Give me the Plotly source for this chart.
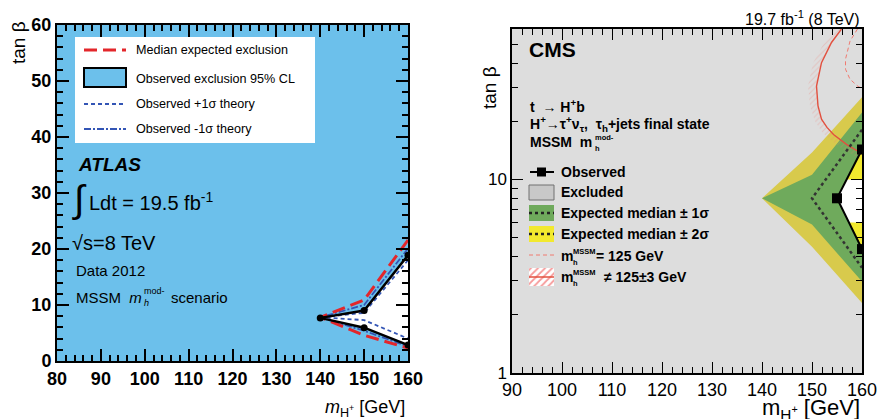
import math
import plotly.graph_objects as go

W, H = 879, 419

# ---------------- data: ATLAS panel (m_H+ [GeV], tan beta) ----------------
atlas_mass = [160, 150, 140, 150, 160]
atlas_observed = [18.9, 9.0, 7.7, 5.95, 2.86]
atlas_expected = [21.6, 10.9, 7.8, 4.6, 2.3]
atlas_obs_plus1 = [18.0, 8.6, 7.8, 7.3, 4.0]
atlas_obs_minus1 = [20.1, 10.0, 7.8, 5.4, 2.6]
atlas_xticks = [80, 90, 100, 110, 120, 130, 140, 150, 160]
atlas_yticks = [0, 10, 20, 30, 40, 50, 60]

# ---------------- data: CMS panel ----------------
cms_band_mass = [140, 150, 160]
cms_2s_up = [8.0, 13.8, 26.6]
cms_2s_dn = [8.0, 4.5, 2.3]
cms_1s_up = [8.0, 10.6, 22.2]
cms_1s_dn = [8.0, 5.85, 2.97]
cms_exp_mass = [160, 150, 160]
cms_exp_tanb = [18.1, 8.0, 3.5]
cms_obs_mass = [160, 155, 160]
cms_obs_tanb = [14.3, 8.0, 4.37]
cms_allowed_mass = [155, 156.9, 160, 160, 157.4]
cms_allowed_tanb = [8.0, 10.0, 10.0, 6.0, 6.0]
cms_mh125_mass = [159.1, 157.6, 156.7, 156.7, 157.6, 159.2, 160.0]
cms_mh125_tanb = [60, 51.9, 41.9, 37.2, 33.0, 30.3, 29.6]
cms_mh3_mass = [155.9, 153.9, 151.9, 150.9, 151.2, 151.9, 153.0, 154.3, 156.9, 160.0]
cms_mh3_tanb = [60, 51.1, 40.2, 30.4, 24.0, 20.5, 18.6, 17.1, 15.2, 13.6]
cms_mh3_hatch_mass = [154.4, 152.4, 150.2, 149.2, 149.6, 150.6, 152.0, 153.6, 156.2, 159.2]
cms_mh3_hatch_tanb = [60, 51, 40, 30.4, 24, 20, 17.6, 16.1, 14.3, 13.0]
cms_xticks = [90, 100, 110, 120, 130, 140, 150, 160]
cms_yticks = [1, 10]
cms_yminor = [2, 3, 4, 5, 6, 7, 8, 9, 20, 30, 40, 50, 60]

# ---------------- colours ----------------
ATLAS_BLUE = '#6cc0eb'
RED = '#e3262b'
BLUE = '#3355b5'
CMS_GRAY = '#dddddd'
OLIVE = '#d8ca4c'
GREEN = '#6faa5c'
YELLOW = '#f2e92e'
FONT = 'Liberation Sans, Arial, Helvetica, sans-serif'

fig = go.Figure()

# ---------------- ATLAS traces ----------------
fig.add_trace(go.Scatter(x=atlas_mass, y=atlas_observed, fill='toself', fillcolor='white',
                         mode='lines', line=dict(width=0), xaxis='x', yaxis='y', hoverinfo='skip'))
fig.add_trace(go.Scatter(x=atlas_mass, y=atlas_obs_plus1, mode='lines',
                         line=dict(color=BLUE, width=1.8, dash='4px,3px'), xaxis='x', yaxis='y'))
fig.add_trace(go.Scatter(x=atlas_mass, y=atlas_obs_minus1, mode='lines',
                         line=dict(color=BLUE, width=1.8, dash='7px,2px,2px,2px'), xaxis='x', yaxis='y'))
fig.add_trace(go.Scatter(x=atlas_mass, y=atlas_expected, mode='lines',
                         line=dict(color=RED, width=3, dash='13px,6px'), xaxis='x', yaxis='y'))
fig.add_trace(go.Scatter(x=atlas_mass, y=atlas_observed, mode='lines+markers',
                         line=dict(color='black', width=2.5),
                         marker=dict(color='black', size=7, symbol='circle'), xaxis='x', yaxis='y'))

# ---------------- CMS traces ----------------
fig.add_trace(go.Scatter(x=cms_band_mass + cms_band_mass[::-1], y=cms_2s_up + cms_2s_dn[::-1],
                         fill='toself', fillcolor=OLIVE, mode='lines', line=dict(width=0),
                         xaxis='x2', yaxis='y2'))
fig.add_trace(go.Scatter(x=cms_band_mass + cms_obs_mass + cms_band_mass[::-1][:-1],
                         y=cms_1s_up + cms_obs_tanb + cms_1s_dn[::-1][:-1],
                         fill='toself', fillcolor=GREEN, mode='lines', line=dict(width=0),
                         xaxis='x2', yaxis='y2'))
fig.add_trace(go.Scatter(x=cms_obs_mass, y=cms_obs_tanb, fill='toself', fillcolor=YELLOW,
                         mode='lines', line=dict(width=0), xaxis='x2', yaxis='y2'))
fig.add_trace(go.Scatter(x=cms_allowed_mass, y=cms_allowed_tanb, fill='toself', fillcolor='white',
                         mode='lines', line=dict(width=0), xaxis='x2', yaxis='y2'))
fig.add_trace(go.Scatter(x=cms_mh3_mass + cms_mh3_hatch_mass[::-1],
                         y=cms_mh3_tanb + cms_mh3_hatch_tanb[::-1],
                         fill='toself', fillcolor='rgba(0,0,0,0)', mode='lines', line=dict(width=0),
                         fillpattern=dict(shape='/', fgcolor='rgba(236,120,110,0.55)',
                                          bgcolor='rgba(0,0,0,0)', size=4, solidity=0.25),
                         xaxis='x2', yaxis='y2'))
fig.add_trace(go.Scatter(x=cms_mh3_mass, y=cms_mh3_tanb, mode='lines',
                         line=dict(color='#e2503f', width=1.4), xaxis='x2', yaxis='y2'))
fig.add_trace(go.Scatter(x=cms_mh125_mass, y=cms_mh125_tanb, mode='lines',
                         line=dict(color='#f07a70', width=1, dash='4px,3px'), xaxis='x2', yaxis='y2'))
fig.add_trace(go.Scatter(x=cms_exp_mass, y=cms_exp_tanb, mode='lines',
                         line=dict(color='#333333', width=2.5, dash='dot'), xaxis='x2', yaxis='y2'))
fig.add_trace(go.Scatter(x=cms_obs_mass, y=cms_obs_tanb, mode='lines+markers',
                         line=dict(color='black', width=2),
                         marker=dict(color='black', size=10, symbol='square'), xaxis='x2', yaxis='y2'))

# hatched legend box (pixel overlay axes)
lx0, lx1, ly0, ly1 = 529, 554, 268, 286
fig.add_trace(go.Scatter(x=[lx0, lx1, lx1, lx0], y=[ly0, ly0, ly1, ly1], fill='toself',
                         fillcolor='rgba(0,0,0,0)', mode='lines', line=dict(width=0),
                         fillpattern=dict(shape='/', fgcolor='#ee3333', bgcolor='white', size=5, solidity=0.35),
                         xaxis='x3', yaxis='y3'))
fig.add_trace(go.Scatter(x=[lx0, lx1], y=[277, 277], mode='lines', line=dict(color='#e2503f', width=1.5),
                         xaxis='x3', yaxis='y3'))

# ---------------- axes ----------------
common = dict(showgrid=False, zeroline=False, showline=True, linecolor='black', mirror='ticks',
              ticks='inside', tickcolor='black', automargin=False)

fig.update_layout(
    width=W, height=H, margin=dict(l=0, r=0, t=0, b=0, autoexpand=False),
    paper_bgcolor='white', plot_bgcolor='rgba(0,0,0,0)', showlegend=False,
    xaxis=dict(domain=[57 / W, 408 / W], range=[80, 160], anchor='y', linewidth=2,
               tickvals=atlas_xticks, ticklen=12, tickwidth=1.5,
               minor=dict(dtick=2, tick0=80, ticklen=6, ticks='inside', tickcolor='black', tickwidth=1.5),
               tickfont=dict(family=FONT, size=18, color='black', weight='bold'), **common),
    yaxis=dict(domain=[1 - 361 / H, 1 - 25 / H], range=[0, 60], anchor='x', linewidth=2,
               tickvals=atlas_yticks, ticklen=12, tickwidth=1.5,
               minor=dict(dtick=2, tick0=0, ticklen=6, ticks='inside', tickcolor='black', tickwidth=1.5),
               tickfont=dict(family=FONT, size=18, color='black', weight='bold'), **common),
    xaxis2=dict(domain=[512 / W, 862 / W], range=[90, 160], anchor='y2', linewidth=1.5,
                tickvals=cms_xticks, ticklen=11, tickwidth=1,
                minor=dict(dtick=2, tick0=90, ticklen=6, ticks='inside', tickcolor='black', tickwidth=1),
                tickfont=dict(family=FONT, size=18, color='black'), **common),
    yaxis2=dict(domain=[1 - 373 / H, 1 - 29 / H], type='log', range=[0, math.log10(60)], anchor='x2',
                linewidth=1.5, tickvals=cms_yticks, ticktext=[str(v) for v in cms_yticks],
                ticklen=11, tickwidth=1,
                minor=dict(tickmode='array', tickvals=cms_yminor, ticklen=6, ticks='inside',
                           tickcolor='black', tickwidth=1),
                tickfont=dict(family=FONT, size=17, color='black'), **common),
    xaxis3=dict(domain=[0, 1], range=[0, W], anchor='y3', visible=False, fixedrange=True),
    yaxis3=dict(domain=[0, 1], range=[H, 0], anchor='x3', visible=False, fixedrange=True),
)

shapes = []
# panel backgrounds
shapes.append(dict(type='rect', xref='x domain', yref='y domain', x0=0, x1=1, y0=0, y1=1,
                   fillcolor=ATLAS_BLUE, line=dict(width=0), layer='below'))
shapes.append(dict(type='rect', xref='x2 domain', yref='y2 domain', x0=0, x1=1, y0=0, y1=1,
                   fillcolor=CMS_GRAY, line=dict(width=0), layer='below'))


def pshape(**kw):
    d = dict(xref='x3', yref='y3', layer='above')
    d.update(kw)
    shapes.append(d)


# ATLAS legend
pshape(type='rect', x0=75, x1=315, y0=37, y1=143, fillcolor='white', line=dict(width=0))
pshape(type='line', x0=84, x1=126, y0=50, y1=50, line=dict(color=RED, width=3, dash='13px,6px'))
pshape(type='rect', x0=84, x1=126, y0=68, y1=87, fillcolor=ATLAS_BLUE, line=dict(color='black', width=2))
pshape(type='line', x0=84, x1=126, y0=104, y1=104, line=dict(color=BLUE, width=1.8, dash='4px,3px'))
pshape(type='line', x0=84, x1=126, y0=129, y1=129, line=dict(color=BLUE, width=1.8, dash='7px,2px,2px,2px'))
# CMS legend
pshape(type='line', x0=530, x1=554, y0=172, y1=172, line=dict(color='black', width=2))
pshape(type='rect', x0=537, x1=546, y0=167.5, y1=176.5, fillcolor='black', line=dict(width=0))
pshape(type='rect', x0=529, x1=554, y0=185, y1=200, fillcolor='#c8c8c8', line=dict(color='#707070', width=1))
pshape(type='rect', x0=529, x1=554, y0=205, y1=221, fillcolor=GREEN, line=dict(width=0))
pshape(type='line', x0=529, x1=554, y0=213, y1=213, line=dict(color='#222222', width=2.5, dash='dot'))
pshape(type='rect', x0=529, x1=554, y0=226, y1=242, fillcolor=YELLOW, line=dict(width=0))
pshape(type='line', x0=529, x1=554, y0=234, y1=234, line=dict(color='#222222', width=2.5, dash='dot'))
pshape(type='line', x0=529, x1=554, y0=255, y1=255, line=dict(color='#f07a70', width=1, dash='4px,3px'))
fig.update_layout(shapes=shapes)

ann = []


def txt(x, y, text, size, xanchor='left', angle=0, color='black'):
    ann.append(dict(xref='x3', yref='y3', x=x, y=y, text=text, showarrow=False, xanchor=xanchor,
                    yanchor='middle', textangle=angle,
                    font=dict(family=FONT, size=size, color=color)))


# ATLAS texts
txt(18, 43, 'tan β', 19, xanchor='center', angle=-90)
txt(407, 408, '<i>m</i><sub>H<sup>+</sup></sub> [GeV]', 18, xanchor='right')
txt(134, 50, 'Median expected exclusion', 12.6)
txt(134, 79, 'Observed exclusion 95% CL', 12.6)
txt(134, 104, 'Observed +1σ theory', 12.6)
txt(134, 129, 'Observed -1σ theory', 12.6)
txt(76, 164, '<b><i>ATLAS</i></b>', 19)
txt(79, 199, '∫', 38, xanchor='center')
txt(87, 201, 'Ldt = 19.5 fb<sup>-1</sup>', 20)
txt(70, 243, '√s=8 TeV', 20)
txt(74, 270, 'Data 2012', 15)
txt(74, 297, 'MSSM  <i>m</i>', 15)
txt(142, 291, 'mod-', 9)
txt(142, 303, '<i>h</i>', 9)
txt(169, 297, 'scenario', 15)

# CMS texts
txt(527, 49, '<b>CMS</b>', 21)
txt(862, 18, '19.7 fb<sup>-1</sup> (8 TeV)', 16, xanchor='right')
txt(489, 88, 'tan β', 19, xanchor='center', angle=-90)
txt(862, 409, 'm<sub>H<sup>+</sup></sub> [GeV]', 22, xanchor='right')
txt(528, 106, '<b>t  → H<sup>+</sup>b</b>', 14)
txt(528, 124, '<b>H<sup>+</sup>→τ<sup>+</sup>ν<sub>τ</sub>,  τ<sub>h</sub>+jets final state</b>', 14)
txt(528, 142, '<b>MSSM  m</b>', 14)
txt(593, 137, '<b>mod-</b>', 7.5)
txt(593, 148, '<b>h</b>', 7.5)
txt(559, 172, '<b>Observed</b>', 14)
txt(559, 192, '<b>Excluded</b>', 14)
txt(559, 213, '<b>Expected median ± 1σ</b>', 14)
txt(559, 234, '<b>Expected median ± 2σ</b>', 14)
txt(559, 256, '<b>m</b>', 14)
txt(571, 251, '<b>MSSM</b>', 7.5)
txt(571, 262, '<b>h</b>', 7.5)
txt(594, 256, '<b>= 125 GeV</b>', 14)
txt(559, 277, '<b>m</b>', 14)
txt(571, 272, '<b>MSSM</b>', 7.5)
txt(571, 283, '<b>h</b>', 7.5)
txt(602, 277, '<b>≠ 125±3 GeV</b>', 14)
fig.update_layout(annotations=ann)

fig.write_html('out.html')
